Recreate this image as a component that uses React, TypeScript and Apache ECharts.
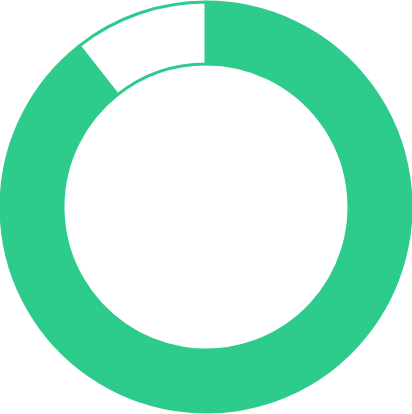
import { useEffect, useRef } from 'react';
import * as echarts from 'echarts';

const names = ['done', 'left'];
const values = [89.4, 10.6];
const colors = ['#2dcb8c', '#ffffff'];

export default function App() {
  const ref = useRef<HTMLDivElement>(null);

  useEffect(() => {
    if (!ref.current) return;
    const chart = echarts.init(ref.current, undefined, { renderer: 'svg' });
    chart.setOption({
      animation: false,
      series: [
        {
          type: 'pie',
          radius: [143, 205],
          center: ['50%', '50%'],
          startAngle: 90,
          clockwise: true,
          label: { show: false },
          labelLine: { show: false },
          silent: true,
          data: names.map((n, i) => ({
            name: n,
            value: values[i],
            itemStyle: { color: colors[i], borderColor: '#2dcb8c', borderWidth: 3 },
          })),
        },
      ],
    });
    return () => chart.dispose();
  }, []);

  return (
    <div
      ref={ref}
      style={{ position: 'fixed', left: 0, top: 0, width: 412, height: 414 }}
    />
  );
}
